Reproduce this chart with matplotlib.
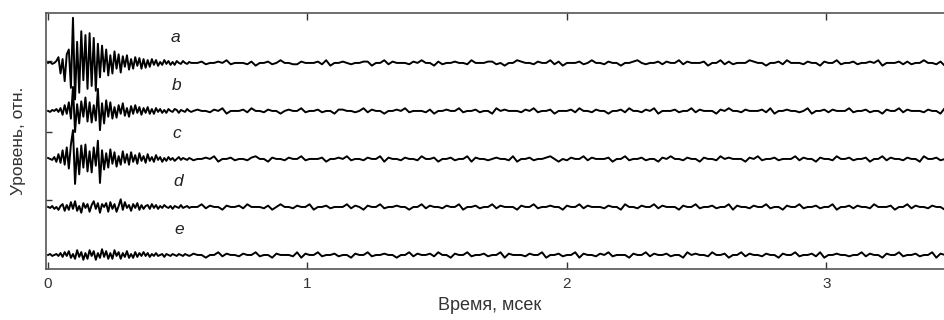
import numpy as np
import matplotlib
matplotlib.use('Agg')
import matplotlib.pyplot as plt

plt.rcParams['font.family'] = ['Liberation Sans', 'DejaVu Sans']

# burst part of each trace, sampled every 0.008 ms from t = 0 (level units, 50 = trace spacing)
a_burst = [0, 1, -1, 0, 2, 6, -11, 4, -19, 9,
           14, -26, 47, -38, 22, -31, 33, -18, 29, -27,
           31, -24, 26, -29, 20, -15, 18, -9, 14, -13,
           8, -11, 12, -6, 9, -10, 7, -4, 8, -7,
           4, -6, 6, -3, 5, -6, 4, -5, 3, -4,
           4, -2, 3, -3, 1, -2, 3, -1, 2, -2,
           1, -2, 2, 0, -1, 2, 0, -1, 1, 0]
b_burst = [0, -1, 1, 0, 2, -1, 3, -4, 6, -3,
           9, -8, 25, -22, 7, -13, 10, -6, 14, -11,
           9, -12, 6, -10, 23, -20, 8, -13, 11, -6,
           9, -8, 4, -7, 6, -3, 8, -5, 3, -6,
           5, -3, 6, -2, 4, -4, 3, -2, 4, -3,
           2, -3, 3, -1, 2, -2, 1, -2, 2, 0,
           -1, 2, 1, -2, 1, 0, -1, 2, 0, -1]
c_burst = [1, 0, -1, 2, -3, 5, -4, 9, -6, 12,
           -10, 15, 30, -26, 11, -16, 14, -9, 15, -13,
           8, -14, 12, -7, 19, -25, 9, -11, 6, -9,
           10, -5, 7, -8, 3, -6, 8, -4, 5, -6,
           7, -3, 4, -5, 6, -2, 3, -4, 5, -2,
           2, -3, 4, -1, 2, -3, 1, -2, 2, -1,
           1, -2, 0, 2, -1, 1, 0, -1, 1, 0]
d_burst = [0, -1, 1, -2, 0, -3, 1, 3, -4, 2,
           -3, 5, -2, 6, -4, 1, -6, 4, -1, 3,
           -5, 2, 6, -2, 4, -6, 3, 0, 4, -5,
           5, -2, 3, -5, 1, 8, -3, 5, -1, 2,
           -4, 3, -1, 4, -3, 2, -2, 1, 2, -2,
           3, -1, 2, -2, 1, -1, 2, 0, -1, 1,
           -2, 1, 0, -1, 2, -1, 0, 1, -1, 0]
e_burst = [0, 1, -1, 0, 1, -1, 2, -2, 3, -1,
           4, -3, 1, -4, 5, -2, 3, -5, 2, -4,
           5, -1, 4, -5, 2, -3, 6, -2, 4, -4,
           2, -4, 5, -1, 3, -4, 2, -2, 4, -3,
           1, -3, 3, -2, 2, -1, 3, -1, 2, -2,
           1, -1, 2, -1, 0, 1, -2, 1, 0, -1,
           1, 0, -1, 1, 0, -1, 1, 0, -1, 0]

# quiet part after the burst, every 0.016 ms, one digit per sample (4 = baseline)
a_noise = ("44534454634443524453" "46443354445362445434" "45524463544435464425"
           "34454436444553424465" "44354463524445346443" "54424456434453544635"
           "44452446353444654424" "45364443544254463445" "34454624445353446443"
           "52444635444534425446")
b_noise = ("45443546244453644354" "42454463445344255443" "46354424454634443524"
           "45446344534426454443" "54634452444536443544" "24453644354624445344"
           "63544425464435444536" "24454434624453544463" "44534425446354443544"
           "26443545443624454434")
c_noise = ("34454624453443564425" "44354463444524454634" "43544625443544364452"
           "44534462544345443624" "45344564243544635444" "52446344534425464435"
           "44254436454442546344" "53444635442544364453" "44524463544354426445"
           "34463544254434654443")
d_noise = ("44635442544536444352" "46443544624453444635" "42544634454424463544"
           "35446244534463544425" "44634454425446354443" "54426443544635444254"
           "46344534462544354463" "44254463445344624453" "54436444524463544354"
           "42544634453624454434")
e_noise = ("54424463544354463442" "54443625446344534425" "44634454424463544536"
           "44254463445344625444" "35446244534462544354" "63444254463544534426"
           "45443644524463544354" "42544634453624454434" "46354425446344534462"
           "54435446244535444634")

labels = ['a', 'b', 'c', 'd', 'e']
bursts = [a_burst, b_burst, c_burst, d_burst, e_burst]
noises = [a_noise, b_noise, c_noise, d_noise, e_noise]

DT_BURST = 0.008
DT_NOISE = 0.016
SPACING = 50
NOISE_STEP = 1.4


def build_trace(burst, noise):
    burst = np.array(burst, dtype=float)
    quiet = (np.array([int(ch) for ch in noise]) - 4) * NOISE_STEP
    t_burst = np.arange(len(burst)) * DT_BURST
    t_quiet = len(burst) * DT_BURST + np.arange(len(quiet)) * DT_NOISE
    return np.concatenate([t_burst, t_quiet]), np.concatenate([burst, quiet])


fig = plt.figure(figsize=(9.45, 3.2), dpi=100)
ax = fig.add_axes([46 / 945, 51 / 320, 936 / 945, 256 / 320])

n = len(labels)
for i, (lab, burst, noise) in enumerate(zip(labels, bursts, noises)):
    offset = (n - 1 - i) * SPACING
    t, y = build_trace(burst, noise)
    ax.plot(t, y + offset, color='black', lw=1.4, solid_joinstyle='round')
    ax.text(0.49 + 0.004 * i, offset + 27, lab, fontsize=12.5, style='italic',
            ha='center', va='center', color='#222222')

ax.set_xlim(-0.008, 3.6)
ax.set_ylim(-14.6, 252)
ax.set_xticks([0, 1, 2, 3])
ax.set_xticklabels(['0', '1', '2', '3'])
ax.set_yticks([57, 128, 202])
ax.set_yticklabels([])
ax.tick_params(axis='x', direction='in', top=True, length=5, width=1,
               labelsize=11, colors='#333333', pad=6)
ax.tick_params(axis='y', direction='in', length=4, width=1, colors='#333333')
for side in ['left', 'bottom', 'top']:
    ax.spines[side].set_color('#555555')
    ax.spines[side].set_linewidth(1.2)
ax.spines['right'].set_visible(False)

ax.set_xlabel('Время, мсек', fontsize=13, color='#333333')
ax.xaxis.set_label_coords(0.474, -0.11)
ax.set_ylabel('Уровень, отн.', fontsize=12.5, color='#333333')
ax.yaxis.set_label_coords(-0.021, 0.5)

fig.savefig('out.png', dpi=100)
